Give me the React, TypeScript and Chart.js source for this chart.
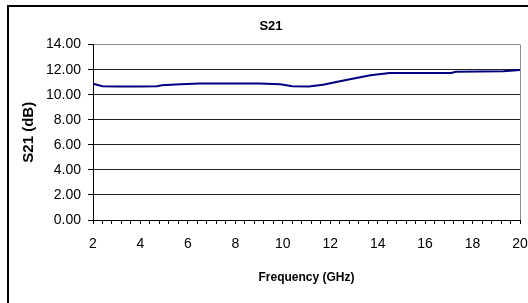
import React, { useEffect, useRef } from "react";
import { Chart, registerables } from "chart.js";

Chart.register(...registerables);

// ---- data ----
const FREQ_GHZ = [2.0, 2.4, 3.0, 4.0, 4.7, 4.9, 5.7, 6.5, 8.0, 9.0, 9.9, 10.4, 11.1, 11.7, 12.3, 13.1, 13.7, 14.5, 17.1, 17.3, 19.3, 20.0];
const S21_DB = [10.88, 10.68, 10.66, 10.66, 10.67, 10.76, 10.83, 10.9, 10.9, 10.9, 10.83, 10.68, 10.66, 10.8, 11.04, 11.33, 11.55, 11.73, 11.74, 11.84, 11.87, 11.98];
const X_LABEL_VALUES = [2, 4, 6, 8, 10, 12, 14, 16, 18, 20];
const X_MINOR_PER_LABEL = 5;
const Y_MIN = 0;
const Y_MAX = 14;
const Y_STEP = 2;

const FONT = "'Liberation Sans', Arial, sans-serif";

const plotBorder = {
  id: "plotBorder",
  beforeDatasetsDraw(chart: any) {
    const { ctx, chartArea } = chart;
    ctx.save();
    ctx.strokeStyle = "#8c8c8c";
    ctx.lineWidth = 1;
    ctx.beginPath();
    ctx.moveTo(Math.round(chartArea.right) + 0.5, chartArea.top);
    ctx.lineTo(Math.round(chartArea.right) + 0.5, chartArea.bottom);
    ctx.stroke();
    ctx.restore();
  },
};

export default function App() {
  const ref = useRef<HTMLCanvasElement>(null);

  useEffect(() => {
    const canvas = ref.current;
    if (!canvas) return;
    const chart = new Chart(canvas, {
      type: "line",
      data: {
        datasets: [
          {
            label: "S21",
            data: FREQ_GHZ.map((f, i) => ({ x: f, y: S21_DB[i] })),
            borderColor: "#000080",
            borderWidth: 2,
            pointRadius: 0,
            tension: 0,
            fill: false,
          },
        ],
      },
      options: {
        responsive: false,
        animation: false,
        devicePixelRatio: 1,
        layout: { padding: { left: 14, right: 0, top: 0, bottom: 15 } },
        plugins: {
          legend: { display: false },
          tooltip: { enabled: false },
          title: {
            display: true,
            text: "S21",
            color: "#000",
            font: { family: FONT, size: 13, weight: "bold" },
            padding: { top: 19, bottom: 10 },
          },
        },
        scales: {
          x: {
            type: "linear",
            min: X_LABEL_VALUES[0],
            max: X_LABEL_VALUES[X_LABEL_VALUES.length - 1],
            afterBuildTicks: (scale: any) => {
              const ticks: { value: number }[] = [];
              for (let i = 0; i < X_LABEL_VALUES.length - 1; i++) {
                const a = X_LABEL_VALUES[i];
                const b = X_LABEL_VALUES[i + 1];
                for (let k = 0; k < X_MINOR_PER_LABEL; k++) {
                  ticks.push({ value: Math.round((a + ((b - a) * k) / X_MINOR_PER_LABEL) * 1000) / 1000 });
                }
              }
              ticks.push({ value: X_LABEL_VALUES[X_LABEL_VALUES.length - 1] });
              scale.ticks = ticks;
            },
            afterFit: (scale: any) => {
              scale.height = 68;
              scale.paddingRight = 8;
            },
            ticks: {
              autoSkip: false,
              maxRotation: 0,
              minRotation: 0,
              padding: 12,
              color: "#000",
              font: { family: FONT, size: 14 },
              callback: (v: any) => (X_LABEL_VALUES.includes(Number(v)) ? String(v) : ""),
            },
            grid: {
              drawOnChartArea: false,
              drawTicks: true,
              tickLength: 4,
              color: "#000",
            },
            border: { color: "#000", width: 1 },
            title: {
              display: true,
              text: "Frequency (GHz)",
              color: "#000",
              font: { family: FONT, size: 12, weight: "bold" },
              padding: { top: 0, bottom: 3 },
            },
          },
          y: {
            min: Y_MIN,
            max: Y_MAX,
            afterFit: (scale: any) => {
              scale.width = 79;
            },
            ticks: {
              stepSize: Y_STEP,
              padding: 7,
              color: "#000",
              font: { family: FONT, size: 14 },
              callback: (v: any) => Number(v).toFixed(2),
            },
            grid: {
              color: (ctx: any) => (ctx.tick && ctx.tick.value === Y_MAX ? "#8c8c8c" : "#222"),
              tickColor: "#000",
              tickLength: 5,
              lineWidth: 1,
            },
            border: { color: "#000", width: 1 },
            title: {
              display: true,
              text: "S21 (dB)",
              color: "#000",
              font: { family: FONT, size: 15, weight: "bold" },
              padding: { top: 6, bottom: 0 },
            },
          },
        },
      },
      plugins: [plotBorder],
    });
    return () => chart.destroy();
  }, []);

  return (
    <div
      style={{
        position: "absolute",
        left: 0,
        top: 0,
        width: 528,
        height: 303,
        overflow: "hidden",
        background: "#fff",
      }}
    >
      <div
        style={{
          position: "absolute",
          left: 7,
          top: 5,
          width: 600,
          height: 400,
          borderTop: "2px solid #000",
          borderLeft: "2px solid #000",
        }}
      />
      <canvas
        ref={ref}
        width={528}
        height={303}
        style={{ position: "absolute", left: 0, top: 0, width: 528, height: 303 }}
      />
    </div>
  );
}
